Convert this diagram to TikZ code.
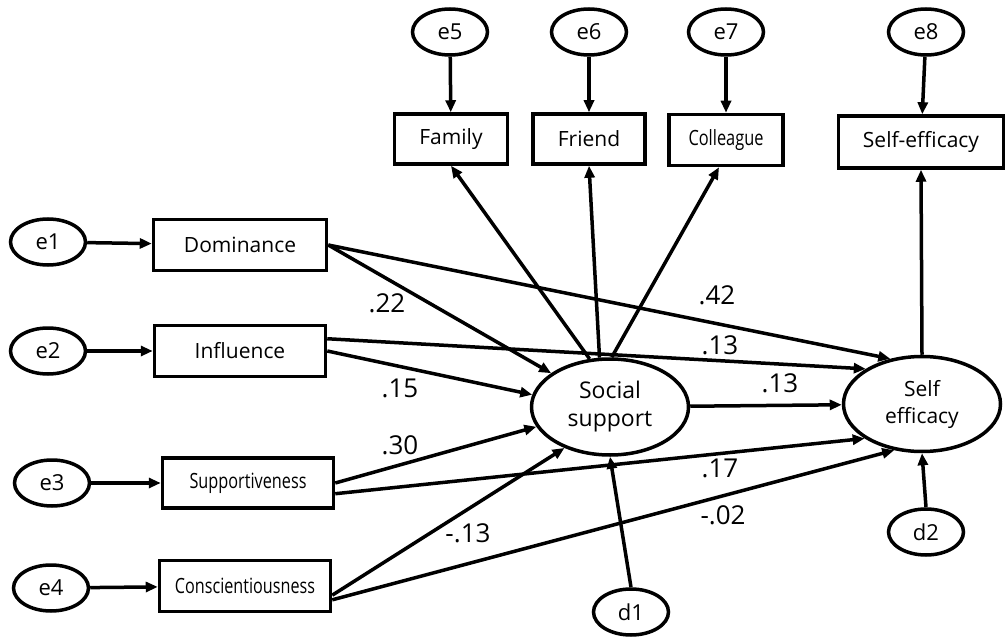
\documentclass[tikz,border=0pt]{standalone}
\usepackage{fontspec}
\setmainfont{Open Sans}
\usepackage{graphicx}
\usepackage{tikz}
\usetikzlibrary{shapes}
\usetikzlibrary{arrows.meta}
\tikzstyle{obs}=[rectangle,draw=black,minimum width=113pt,minimum height=50pt,inner sep=0pt,font=\fontsize{21}{24}\selectfont]
\tikzstyle{err}=[ellipse,draw=black,minimum width=75pt,minimum height=46pt,inner sep=0pt,font=\fontsize{22}{24}\selectfont]
\tikzstyle{lat}=[ellipse,draw=black,minimum width=157pt,minimum height=96pt,inner sep=0pt,align=center,font=\fontsize{23}{28}\selectfont]
\tikzstyle{coef}=[inner sep=0pt,font=\fontsize{26}{28}\selectfont]
\tikzset{every picture/.style={
    line width=3.5pt,
    >={Triangle[length=12pt,width=10pt]}
  }
}
\newcommand\squeeze[2]{\resizebox{#1}{\height}{#2}}

\begin{document}
\begin{tikzpicture}[x=1pt,y=-1pt]
        \useasboundingbox (0,0) rectangle (1006,639);
        \node[err] at (48,242) (e1) {e1};
        \node[err] at (48,351) (e2) {e2};
        \node[err] at (52,483) (e3) {e3};
        \node[err] at (51,588) (e4) {e4};
        \node[err] at (450,32) (e5) {e5};
        \node[err] at (589,32) (e6) {e6};
        \node[err] at (726,32) (e7) {e7};
        \node[err] at (926,32) (e8) {e8};
        \node[err] at (631,612) (d1) {d1};
        \node[err] at (926,532) (d2) {d2};
        \node[obs,minimum width=173pt,minimum height=51pt] at (240,245) (dom) {Dominance};
        \node[obs,minimum width=171pt,minimum height=51pt] at (240,351) (inf) {Influence};
        \node[obs,minimum width=171pt] at (248,483) (sup) {\squeeze{117pt}{Supportiveness}};
        \node[obs,minimum width=171pt,minimum height=51pt] at (245,586) (con) {\squeeze{140pt}{Conscientiousness}};
        \node[obs] at (451,139) (fam) {Family};
        \node[obs,minimum width=112pt] at (589,139) (fri) {Friend};
        \node[obs,minimum width=114pt,minimum height=51pt] at (726,140) (col) {\squeeze{75pt}{Colleague}};
        \node[obs,minimum width=165pt,minimum height=52pt] at (921,142) (seb) {Self-efficacy};
        \node[lat] at (610,407) (ss) {Social\\support};
        \node[lat,minimum height=95pt,font=\fontsize{21}{27}\selectfont] at (922,404) (se) {Self\\efficacy};
        \draw[->] (e1) to (dom);
        \draw[->] (e2) to (inf);
        \draw[->] (e3) to (sup);
        \draw[->] (e4) to (con);
        \draw[->] (e5) to (fam);
        \draw[->] (e6) to (fri);
        \draw[->] (e7) to (col);
        \draw[->] (e8) to (seb);
        \draw[->] (ss.113) to (fam.south);
        \draw[->] (ss.102) to (fri.south);
        \draw[->] (ss.88) to ([xshift=-7pt]col.south);
        \draw[->] (se.north) to (seb.south);
        \draw[->] (dom.east) to (ss);
        \draw[->] (dom.east) to (se.125);
        \draw[->] (inf.8) to (se.148);
        \draw[->] (inf.east) to (ss.171);
        \draw[->] (sup.east) to (ss.195);
        \draw[->] (sup.-7) to (se.211);
        \draw[->] (con.-6) to (ss.222);
        \draw[->] (con.-9) to (se.239);
        \draw[->] (ss) to (se);
        \draw[->] (d1.north) to (ss.south);
        \draw[->] (d2.north) to (se.south);
        \node[coef] at (387,303) (c1) {.22};
        \node[coef] at (400,388) (c2) {.15};
        \node[coef] at (400,445) (c3) {.30};
        \node[coef] at (468,533) (c4) {-.13};
        \node[coef] at (717,295) (c5) {.42};
        \node[coef] at (720,345) (c6) {.13};
        \node[coef] at (780,383) (c7) {.13};
        \node[coef] at (720,468) (c8) {.17};
        \node[coef] at (723,515) (c9) {-.02};
      \end{tikzpicture}
\end{document}
